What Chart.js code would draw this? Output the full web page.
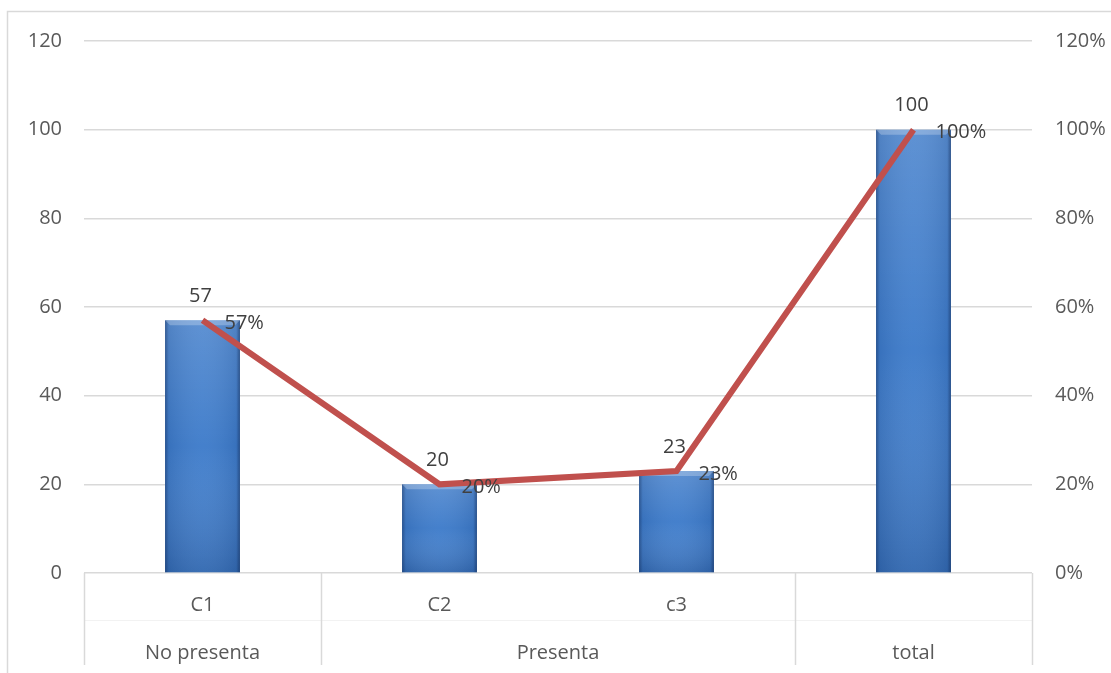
<!DOCTYPE html>
<html>
<head>
<meta charset="utf-8">
<script src="https://cdn.jsdelivr.net/npm/chart.js@4.4.1/dist/chart.umd.min.js"></script>
<style>
  body { margin: 0; background: #fff; }
  #wrap { width: 1111px; height: 673px; }
</style>
</head>
<body>
<div id="wrap"><canvas id="chart" width="1111" height="673"></canvas></div>
<script>
// Chart data
const categories = ['C1', 'C2', 'c3', ''];
const groupLabels = ['No presenta', 'Presenta', 'total'];
const groupSpans = [1, 2, 1];
const counts = [57, 20, 23, 100];
const percents = [0.57, 0.20, 0.23, 1.00];

const FONT = { family: '"Open Sans", "Liberation Sans", sans-serif', size: 20 };
const TEXT = '#595959';
const GRID = '#d9d9d9';

// Bar shading: light top fading down, thin dark edges and a bevel on top
const barShading = {
    id: 'barShading',
    afterDatasetDraw(chart, args) {
        if (args.index !== 0) return;
        const ctx = chart.ctx;
        args.meta.data.forEach(bar => {
            const left = bar.x - bar.width / 2;
            const top = bar.y;
            const h = bar.base - bar.y;
            ctx.save();
            const v = ctx.createLinearGradient(0, top, 0, bar.base);
            v.addColorStop(0, 'rgba(255,255,255,0.14)');
            v.addColorStop(0.5, 'rgba(255,255,255,0)');
            v.addColorStop(1, 'rgba(0,20,60,0.18)');
            ctx.fillStyle = v;
            ctx.fillRect(left, top, bar.width, h);
            const g = ctx.createLinearGradient(left, 0, left + bar.width, 0);
            g.addColorStop(0, 'rgba(10,30,70,0.45)');
            g.addColorStop(0.05, 'rgba(10,30,70,0.1)');
            g.addColorStop(0.5, 'rgba(255,255,255,0.04)');
            g.addColorStop(0.95, 'rgba(10,30,70,0.1)');
            g.addColorStop(1, 'rgba(10,30,70,0.5)');
            ctx.fillStyle = g;
            ctx.fillRect(left, top, bar.width, h);
            // top bevel
            ctx.fillStyle = 'rgba(255,255,255,0.25)';
            ctx.beginPath();
            ctx.moveTo(left, top);
            ctx.lineTo(left + bar.width, top);
            ctx.lineTo(left + bar.width - 5, top + 5);
            ctx.lineTo(left + 5, top + 5);
            ctx.closePath();
            ctx.fill();
            ctx.restore();
        });
    }
};

// Value labels for bars and line
const valueLabels = {
    id: 'valueLabels',
    afterDatasetsDraw(chart) {
        const ctx = chart.ctx;
        ctx.save();
        ctx.font = `${FONT.size}px ${FONT.family}`;
        ctx.fillStyle = '#404040';
        chart.getDatasetMeta(0).data.forEach((bar, i) => {
            ctx.textAlign = 'center';
            ctx.textBaseline = 'middle';
            ctx.fillText(String(counts[i]), bar.x - 2, bar.y - 24);
        });
        chart.getDatasetMeta(1).data.forEach((pt, i) => {
            ctx.textAlign = 'left';
            ctx.textBaseline = 'middle';
            ctx.fillText(Math.round(percents[i] * 100) + '%', pt.x + 22, pt.y + 3);
        });
        ctx.restore();
    }
};

// Two-level category axis drawn below the plot
const groupAxis = {
    id: 'groupAxis',
    afterDraw(chart) {
        const ctx = chart.ctx;
        const x = chart.scales.x;
        const area = chart.chartArea;
        const bottom = 665;
        const step = x.getPixelForValue(1) - x.getPixelForValue(0);
        ctx.save();
        // faint line between the two levels
        ctx.strokeStyle = '#f2f2f2';
        ctx.lineWidth = 1;
        ctx.beginPath();
        ctx.moveTo(area.left, 620.5);
        ctx.lineTo(area.right, 620.5);
        ctx.stroke();

        ctx.strokeStyle = GRID;
        ctx.lineWidth = 1.5;
        ctx.font = `${FONT.size}px ${FONT.family}`;
        ctx.fillStyle = TEXT;
        ctx.textAlign = 'center';
        ctx.textBaseline = 'middle';

        categories.forEach((c, i) => {
            ctx.fillText(c, x.getPixelForValue(i), 605);
        });

        let idx = 0;
        const edges = [area.left];
        groupLabels.forEach((g, k) => {
            const first = idx;
            const last = idx + groupSpans[k] - 1;
            const l = x.getPixelForValue(first) - step / 2;
            const r = x.getPixelForValue(last) + step / 2;
            ctx.fillText(g, (l + r) / 2, 653);
            edges.push(r);
            idx += groupSpans[k];
        });
        edges.forEach(ex => {
            ctx.beginPath();
            ctx.moveTo(Math.round(ex) + 0.5, area.bottom);
            ctx.lineTo(Math.round(ex) + 0.5, bottom);
            ctx.stroke();
        });

        // outer chart frame (top and left visible)
        ctx.lineWidth = 1.5;
        ctx.beginPath();
        ctx.moveTo(7.5, 673);
        ctx.lineTo(7.5, 11.5);
        ctx.lineTo(1111, 11.5);
        ctx.stroke();
        ctx.restore();
    }
};

new Chart(document.getElementById('chart'), {
    type: 'bar',
    data: {
        labels: categories,
        datasets: [
            {
                type: 'bar',
                data: counts,
                yAxisID: 'y',
                order: 1,
                backgroundColor: '#3d7bca',
                borderWidth: 0,
                barPercentage: 0.316,
                categoryPercentage: 1
            },
            {
                type: 'line',
                data: percents,
                yAxisID: 'y1',
                order: 0,
                borderColor: '#c0504d',
                borderWidth: 6,
                pointRadius: 0,
                fill: false,
                tension: 0
            }
        ]
    },
    options: {
        responsive: false,
        animation: false,
        layout: { padding: { left: 7, top: 41, right: 0, bottom: 100 } },
        plugins: {
            legend: { display: false },
            tooltip: { enabled: false }
        },
        scales: {
            x: { display: false },
            y: {
                position: 'left',
                min: 0,
                max: 120,
                ticks: { stepSize: 20, color: TEXT, font: FONT, padding: 22 },
                grid: { color: GRID, lineWidth: 1.5, drawTicks: false },
                border: { display: false },
                afterFit(s) { s.width = 77; }
            },
            y1: {
                position: 'right',
                min: 0,
                max: 1.2,
                ticks: {
                    stepSize: 0.2,
                    color: TEXT,
                    font: FONT,
                    padding: 23,
                    callback: v => Math.round(v * 100) + '%'
                },
                grid: { display: false, drawTicks: false },
                border: { display: false },
                afterFit(s) { s.width = 79; }
            }
        }
    },
    plugins: [barShading, valueLabels, groupAxis]
});
</script>
</body>
</html>
